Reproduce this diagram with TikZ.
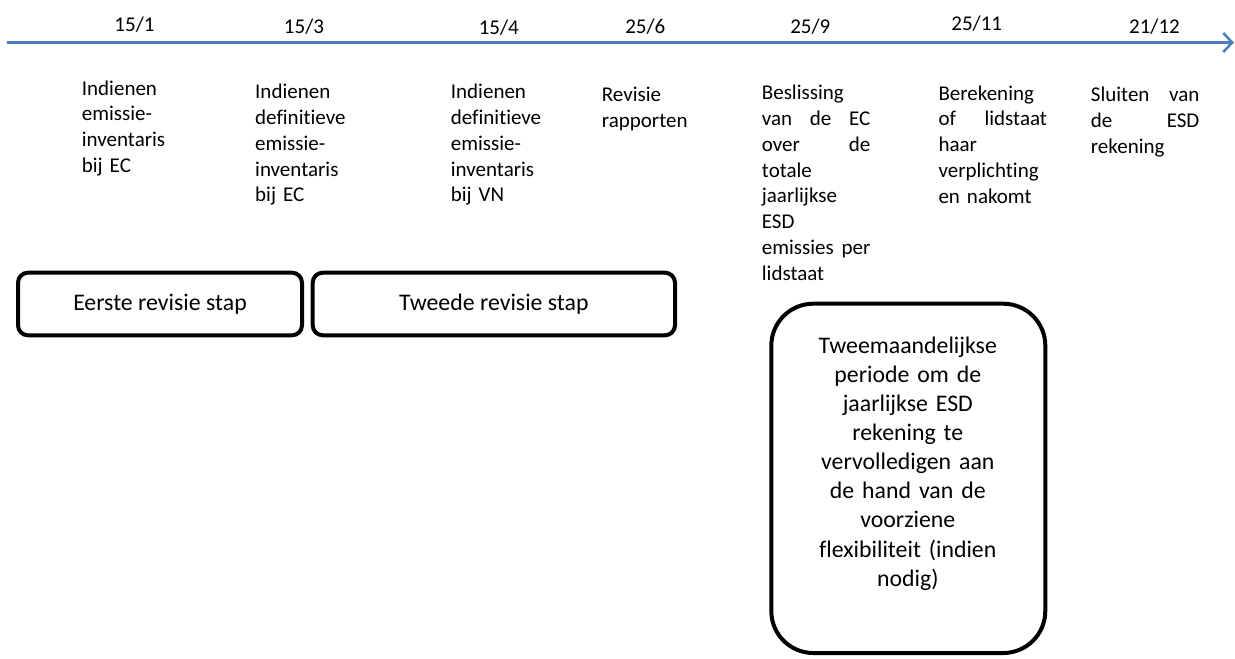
\documentclass[tikz,border=0pt]{standalone}
\usepackage{fontspec}
\setmainfont{Carlito}[Ligatures={NoCommon}]
\usetikzlibrary{arrows.meta}
\definecolor{tlblue}{RGB}{74,126,187}
\newcommand{\jl}[1]{\leavevmode\hbox to 108.5pt{#1}}
\begin{document}
\begin{tikzpicture}[x=1pt,y=-1pt,
  datelbl/.style={anchor=base, inner sep=0pt, font=\fontsize{21}{25.9}\selectfont},
  evtext/.style={anchor=base west, inner sep=0pt, text width=108.5pt, align=left, font=\fontsize{21}{25.9}\selectfont},
  stepbox/.style={draw, line width=4pt, rounded corners=10pt, inner sep=0pt, font=\fontsize{23.8}{29.1}\selectfont},
  bigbox/.style={draw, line width=4pt, rounded corners=42pt, inner sep=0pt},
  boxtext/.style={anchor=base, inner sep=0pt, text width=250pt, align=center, font=\fontsize{23.8}{29.1}\selectfont},
  tl/.style={draw=tlblue, line width=2.5pt, -{Straight Barb[length=9pt,width=19pt]}}]
\useasboundingbox (0,0) rectangle (1235,659);
\fill[white] (0,0) rectangle (1235,659);
% timeline
\coordinate (tlstart) at (7,42.5);
\coordinate (tlend) at (1234,42.5);
\draw[tl] (tlstart) -- (tlend);
% dates
\node[datelbl] (d1) at (134.5,31) {15/1};
\node[datelbl] (d2) at (304,33.3) {15/3};
\node[datelbl] (d3) at (498.8,34.3) {15/4};
\node[datelbl] (d4) at (645.3,33.7) {25/6};
\node[datelbl] (d5) at (810.3,33.3) {25/9};
\node[datelbl] (d6) at (976.7,30.7) {25/11};
\node[datelbl] (d7) at (1154.5,33.3) {21/12};
% event texts
\node[evtext] (e1) at (81.7,95) {Indienen\\emissie-\\inventaris\\bij EC};
\node[evtext] (e2) at (255,98.3) {Indienen\\definitieve\\emissie-\\inventaris\\bij EC};
\node[evtext] (e3) at (450.7,98.3) {Indienen\\definitieve\\emissie-\\inventaris\\bij VN};
\node[evtext] (e4) at (601.7,101.7) {Revisie\\rapporten};
\node[evtext] (e5) at (761.7,99.3) {Beslissing\\\jl{van\hfill de\hfill EC}\\\jl{over\hfill de}\\totale\\jaarlijkse\\ESD\\\jl{emissies\hfill per}\\lidstaat};
\node[evtext] (e6) at (938.3,100) {Berekening\\\jl{of\hfill lidstaat}\\haar\\verplichting\\en nakomt};
\node[evtext] (e7) at (1090.7,101.7) {\jl{Sluiten\hfill van}\\\jl{de\hfill ESD}\\rekening};
% revision steps
\node[stepbox, minimum width=284pt, minimum height=62.6pt] (s1) at (160,304) {Eerste revisie stap};
\node[stepbox, minimum width=362.3pt, minimum height=62.6pt] (s2) at (493.85,304) {Tweede revisie stap};
% two-month period box
\node[bigbox, minimum width=274pt, minimum height=349.3pt] (p) at (908.3,478.35) {};
\node[boxtext] (ptext) at (907.8,353.3) {Tweemaandelijkse\\periode om de\\jaarlijkse ESD\\rekening te\\vervolledigen aan\\de hand van de\\voorziene\\flexibiliteit (indien\\nodig)};
\end{tikzpicture}
\end{document}
